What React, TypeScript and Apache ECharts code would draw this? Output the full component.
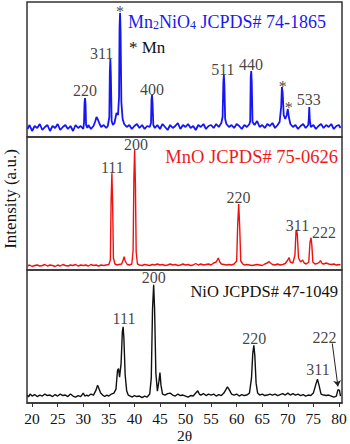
import React, { useEffect, useRef } from "react";
import * as echarts from "echarts";

// 2θ axis
const xMin = 19;
const xMax = 80.6;
const xTicks = [20, 25, 30, 35, 40, 45, 50, 55, 60, 65, 70, 75, 80];

// Mn2NiO4 pattern (blue, top panel) [2θ, intensity a.u.]
const mn2nio4: [number, number][] = [
  [19.1, 8], [19.5, 12], [20, 6], [20.5, 11], [21, 9], [21.5, 13], [22, 7], [22.5, 10], [23, 12], [23.5, 6],
  [24, 11], [24.5, 9], [25, 13], [25.5, 7], [26, 10], [26.5, 12], [27, 8], [27.5, 11], [28, 6], [28.5, 12],
  [29, 9], [29.5, 11], [30, 8], [30.15, 14], [30.25, 34], [30.35, 39], [30.45, 33], [30.55, 12], [30.8, 9],
  [31, 12], [31.5, 8], [32, 11], [32.3, 15], [32.6, 20], [32.9, 17], [33.2, 13], [33.5, 10], [34, 12],
  [34.5, 9], [34.8, 11], [35.1, 20], [35.2, 65], [35.3, 78], [35.4, 62], [35.55, 16], [35.8, 12], [36.1, 14],
  [36.5, 24], [36.8, 22], [37.0, 40], [37.1, 110], [37.2, 124], [37.3, 105], [37.45, 35], [37.7, 18],
  [38, 13], [38.5, 10], [39, 12], [39.5, 8], [40, 11], [40.5, 13], [41, 9], [41.5, 12], [42, 8], [42.5, 11],
  [43, 10], [43.25, 14], [43.35, 38], [43.45, 42], [43.55, 34], [43.7, 12], [44, 9], [44.5, 12], [45, 8],
  [45.5, 13], [46, 10], [46.5, 7], [47, 12], [47.5, 9], [48, 11], [48.5, 14], [49, 8], [49.5, 12], [50, 10],
  [50.5, 13], [51, 9], [51.5, 11], [52, 7], [52.5, 12], [53, 10], [53.5, 13], [54, 8], [54.5, 11], [55, 12],
  [55.5, 9], [56, 13], [56.5, 10], [57, 14], [57.25, 20], [57.4, 55], [57.5, 62], [57.6, 52], [57.75, 18],
  [58, 13], [58.5, 10], [59, 12], [59.5, 9], [60, 13], [60.5, 11], [61, 8], [61.5, 12], [62, 10], [62.5, 13],
  [62.65, 16], [62.75, 60], [62.85, 66], [62.95, 55], [63.1, 15], [63.5, 12], [64, 16], [64.5, 10], [65, 12],
  [65.5, 9], [66, 13], [66.5, 11], [67, 14], [67.5, 9], [68, 12], [68.4, 15], [68.7, 30], [68.85, 50],
  [69.0, 44], [69.2, 22], [69.5, 18], [69.8, 22], [70.0, 28], [70.2, 20], [70.5, 13], [71, 10], [71.5, 12],
  [72, 8], [72.5, 11], [73, 13], [73.5, 9], [74, 12], [74.1, 18], [74.2, 30], [74.3, 17], [74.5, 10],
  [75, 12], [75.5, 8], [76, 11], [76.5, 13], [77, 9], [77.5, 12], [78, 10], [78.5, 13], [79, 8], [79.5, 11],
  [80, 12], [80.3, 9],
];

// MnO pattern (red, middle panel)
const mnO: [number, number][] = [
  [19.1, 4], [19.5, 5], [20, 3.5], [20.5, 4.5], [21, 5], [21.5, 4], [22, 4.5], [22.5, 5.5], [23, 4], [23.5, 5],
  [24, 4.5], [24.5, 3.5], [25, 5], [25.5, 4], [26, 5.5], [26.5, 4.5], [27, 4], [27.5, 5], [28, 4.5], [28.5, 5.5],
  [29, 4], [29.5, 5], [30, 4.5], [30.5, 5], [31, 4], [31.5, 5.5], [32, 4.5], [32.5, 5], [33, 4], [33.5, 5],
  [34, 4.5], [34.5, 5], [35, 5.5], [35.3, 10], [35.45, 70], [35.6, 96.7], [35.75, 65], [35.9, 12], [36.2, 6],
  [36.6, 5], [37, 5.5], [37.5, 6], [37.8, 10], [38.0, 13.3], [38.2, 9], [38.6, 5.5], [39, 5], [39.5, 6],
  [39.75, 20], [39.9, 90], [40.05, 120.7], [40.2, 85], [40.35, 18], [40.6, 6], [41, 5], [41.5, 4.5], [42, 5.5],
  [42.5, 5], [43, 4.5], [43.5, 5.5], [44, 5], [44.5, 6], [45, 5], [45.5, 5.5], [46, 4.5], [46.5, 5], [47, 6],
  [47.5, 5], [48, 5.5], [48.5, 4.5], [49, 5], [49.5, 6], [50, 5], [50.5, 5.5], [51, 4.5], [51.5, 5], [52, 6.5],
  [52.5, 5], [53, 6], [53.5, 5], [54, 5.5], [54.5, 6], [55, 5], [55.5, 7], [56, 8], [56.4, 12], [56.7, 8],
  [57, 6], [57.5, 5.5], [58, 5], [58.5, 5.5], [59, 5], [59.5, 6], [60.0, 9], [60.2, 45], [60.4, 66], [60.6, 42],
  [60.8, 9], [61.2, 6], [61.5, 5], [62, 5.5], [62.5, 5], [63, 4.5], [63.5, 5], [64, 5.5], [64.5, 5], [65, 4.5],
  [65.5, 6], [66, 7], [66.3, 8.5], [66.6, 7], [67, 5.5], [67.5, 5], [68, 6], [68.5, 5], [69, 5.5], [69.5, 6.5],
  [70, 10], [70.25, 12.3], [70.5, 8], [71, 7], [71.4, 15], [71.6, 38], [71.7, 40], [71.85, 36], [72.1, 12],
  [72.5, 8], [72.9, 10], [73.2, 7], [73.6, 6], [74.1, 8], [74.35, 28], [74.55, 32.3], [74.7, 25], [74.9, 8],
  [75.3, 6], [75.8, 6.5], [76.2, 8], [76.4, 9.3], [76.7, 6.5], [77, 6], [77.5, 7], [78, 6], [78.5, 5.5], [79, 6],
  [79.5, 5], [80, 5.5], [80.3, 5],
];

// NiO pattern (black, bottom panel)
const niO: [number, number][] = [
  [19.1, 8], [19.3, 6], [19.6, 9], [20, 7], [20.5, 8.5], [21, 6.5], [21.5, 8], [22, 7], [22.5, 9], [23, 7.5],
  [23.5, 8], [24, 6.5], [24.5, 8.5], [25, 7], [25.5, 9], [26, 7.5], [26.5, 8], [27, 6.5], [27.5, 9], [28, 7],
  [28.5, 6], [29, 7.5], [29.5, 6.5], [30, 10], [30.3, 7], [30.7, 8], [31, 7], [31.5, 9], [32, 8], [32.5, 13],
  [32.8, 18], [33.1, 14], [33.4, 10], [33.8, 8], [34.2, 6.5], [34.6, 8], [35, 7], [35.5, 9], [36, 10], [36.4, 14],
  [36.7, 33], [36.9, 34.7], [37.1, 26], [37.4, 40], [37.65, 72], [37.8, 76.7], [37.95, 65], [38.2, 28], [38.5, 12],
  [38.8, 8], [39.2, 7], [39.6, 6], [40, 7.5], [40.5, 6.5], [41, 7], [41.5, 5.5], [42, 7], [42.5, 6], [43, 9],
  [43.3, 25], [43.55, 95], [43.77, 119], [43.95, 95], [44.2, 30], [44.5, 12], [44.8, 22], [45, 30.7], [45.2, 18],
  [45.5, 9], [46, 8], [46.5, 9.5], [47, 10], [47.5, 8], [48, 7], [48.5, 9], [49, 7.5], [49.5, 8], [50, 7],
  [50.5, 6], [51, 7.5], [51.5, 7], [52, 10], [52.4, 12.3], [52.7, 9], [53, 8], [53.5, 9.5], [54, 7.5], [54.5, 9],
  [55, 8], [55.5, 9], [56, 7], [56.5, 8.5], [57, 7.5], [57.5, 10], [58.2, 16.3], [58.6, 13], [59, 9], [59.5, 8],
  [60, 9], [60.5, 7], [61, 8.5], [61.5, 7.5], [62, 8], [62.5, 10], [62.9, 25], [63.15, 50], [63.36, 58],
  [63.55, 48], [63.8, 20], [64.1, 10], [64.5, 8], [65, 9], [65.5, 7.5], [66, 8], [66.5, 9], [67, 8], [67.5, 9],
  [68, 7.5], [68.5, 8.5], [69, 9.5], [69.5, 8], [70, 10], [70.5, 8], [71, 9.5], [71.5, 8], [72, 9], [72.5, 7.5],
  [73, 8.5], [73.5, 7], [74, 8], [74.5, 7.5], [75, 10], [75.5, 19], [75.8, 24], [76.1, 18], [76.5, 9], [77, 8],
  [77.5, 7.5], [78, 8], [78.5, 7], [79, 6], [79.5, 7], [79.8, 13.3], [80.1, 13], [80.3, 7],
];

// Peak annotations [2θ, intensity, label]
const mn2nio4Labels: [number, number, string][] = [
  [30.35, 47, "220"], [33.6, 84, "311"], [37.2, 126, "*"], [43.45, 48, "400"], [57.3, 68, "511"],
  [62.8, 73, "440"], [69.0, 51, "*"], [70.2, 30, "*"], [74.1, 38, "533"],
];
const mnOLabels: [number, number, string][] = [
  [35.68, 102.3, "111"], [40.3, 126, "200"], [60.37, 72.3, "220"], [71.9, 45, "311"], [77.1, 37.3, "222"],
];
const niOLabels: [number, number, string][] = [
  [43.77, 126.7, "200"], [37.97, 84.7, "111"], [63.42, 65, "220"], [75.92, 34, "311"], [77.2, 66.3, "222"],
];
const niOArrow: [number, number][] = [[78.7, 60], [79.8, 16.7]];

const panelMax = [135, 133, 134];
const FONT = "Liberation Serif";

export default function App() {
  const ref = useRef<HTMLDivElement>(null);
  useEffect(() => {
    if (!ref.current) return;
    const chart = echarts.init(ref.current, null, { renderer: "svg" });
    const grids = [
      { left: 27, right: 8, top: 2, height: 135 },
      { left: 27, right: 8, top: 137, height: 133 },
      { left: 27, right: 8, top: 270, height: 134 },
    ].map((g) => ({ ...g, show: true, borderColor: "#333", borderWidth: 1.5, backgroundColor: "transparent" }));

    const xAxes = [0, 1, 2].map((i) => ({
      type: "value",
      gridIndex: i,
      min: xMin,
      max: xMax,
      show: i === 2,
      splitLine: { show: false },
      axisLine: { show: true, onZero: false, lineStyle: { color: "#333", width: 1.5 } },
      axisTick: { show: true, inside: false, length: 4, customValues: xTicks, lineStyle: { color: "#333" } },
      axisLabel: { customValues: xTicks, fontSize: 15.5, fontFamily: FONT, color: "#111", margin: 7 },
      name: i === 2 ? "2θ" : "",
      nameLocation: "middle",
      nameGap: 24,
      nameTextStyle: { fontSize: 15.5, fontFamily: FONT, color: "#111" },
    }));
    const yAxes = [0, 1, 2].map((i) => ({
      type: "value",
      gridIndex: i,
      min: 0,
      max: panelMax[i],
      show: false,
      splitLine: { show: false },
    }));

    const labelSeries = (i: number, data: [number, number, string][]) => ({
      type: "scatter",
      xAxisIndex: i,
      yAxisIndex: i,
      symbolSize: 0,
      silent: true,
      data,
      label: {
        show: true,
        position: "inside",
        formatter: (p: any) => p.data[2],
        fontSize: 16,
        fontFamily: FONT,
        color: "#111",
      },
      z: 5,
    });

    chart.setOption({
      animation: false,
      textStyle: { fontFamily: FONT },
      grid: grids,
      xAxis: xAxes,
      yAxis: yAxes,
      series: [
        {
          type: "line", xAxisIndex: 0, yAxisIndex: 0, data: mn2nio4, showSymbol: false,
          lineStyle: { color: "#1515f5", width: 1.8 }, silent: true,
        },
        {
          type: "line", xAxisIndex: 1, yAxisIndex: 1, data: mnO, showSymbol: false,
          lineStyle: { color: "#f01010", width: 1.4 }, silent: true,
        },
        {
          type: "line", xAxisIndex: 2, yAxisIndex: 2, data: niO, showSymbol: false,
          lineStyle: { color: "#111", width: 1.4 }, silent: true,
          markLine: {
            silent: true,
            symbol: ["none", "arrow"],
            symbolSize: 6,
            label: { show: false },
            lineStyle: { color: "#222", width: 1, type: "solid" },
            data: [[{ coord: niOArrow[0] }, { coord: niOArrow[1] }]],
          },
        },
        labelSeries(0, mn2nio4Labels),
        labelSeries(1, mnOLabels),
        labelSeries(2, niOLabels),
      ],
      graphic: [
        {
          type: "text", left: 128, top: 13,
          style: {
            text: "{a|Mn}{s|2}{a|NiO}{s|4}{a| JCPDS# 74-1865}",
            rich: {
              a: { fontSize: 18, fontFamily: FONT, fill: "#1a1af0", lineHeight: 22, verticalAlign: "bottom" },
              s: { fontSize: 12, fontFamily: FONT, fill: "#1a1af0", lineHeight: 14, verticalAlign: "bottom" },
            },
          },
        },
        {
          type: "text", left: 129, top: 39,
          style: { text: "* Mn", fontSize: 17, fontFamily: FONT, fill: "#111" },
        },
        {
          type: "text", right: 12, top: 147,
          style: { text: "MnO JCPDS# 75-0626", fontSize: 18.5, fontFamily: FONT, fill: "#ee1a1a" },
        },
        {
          type: "text", right: 12, top: 283,
          style: { text: "NiO JCPDS# 47-1049", fontSize: 16.5, fontFamily: FONT, fill: "#111" },
        },
        {
          type: "text", x: 10.5, y: 199, rotation: Math.PI / 2,
          style: {
            text: "Intensity (a.u.)", fontSize: 17, fontFamily: FONT, fill: "#111",
            align: "center", verticalAlign: "middle",
          },
        },
      ],
    });
    return () => chart.dispose();
  }, []);
  return <div ref={ref} style={{ width: 350, height: 444, position: "absolute", left: 0, top: 0 }} />;
}
